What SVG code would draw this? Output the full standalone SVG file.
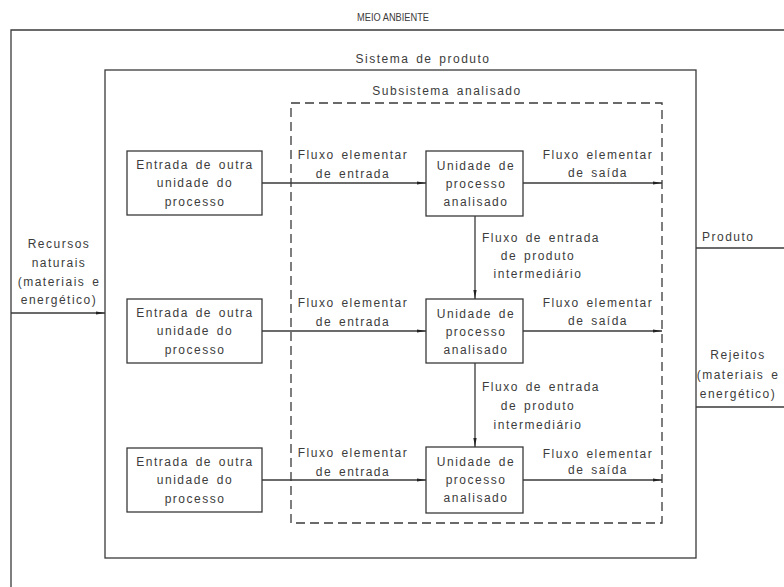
<svg xmlns="http://www.w3.org/2000/svg" width="784" height="587" viewBox="0 0 784 587">
  <style>
    .frame { fill: none; stroke: #3a3a3a; stroke-width: 1.3; }
    .dash { fill: none; stroke: #3a3a3a; stroke-width: 1.3; stroke-dasharray: 9 5; }
    .box { fill: #ffffff; stroke: #3a3a3a; stroke-width: 1.3; }
    .flow { fill: none; stroke: #3a3a3a; stroke-width: 1.3; }
    text { font-family: "Liberation Sans", Arial, sans-serif; font-size: 12px; fill: #3c3c3c; letter-spacing: 1.5px; word-spacing: 2px; }
    .c { text-anchor: middle; }
    .caps { font-size: 11.5px; letter-spacing: 0px; word-spacing: 0px; }
  </style>
  <defs>
    <marker id="arrow" viewBox="0 0 9 4" refX="9" refY="2" markerWidth="9" markerHeight="4" markerUnits="userSpaceOnUse" orient="auto">
      <path d="M0,0.4 L9,2 L0,3.6 Z" fill="#222222"/>
    </marker>
  </defs>

  <!-- environment boundary -->
  <g id="meio-ambiente">
    <path class="frame" d="M11,587 V30 H784"/>
    <text class="caps" x="357" y="21" textLength="72" lengthAdjust="spacingAndGlyphs">MEIO ANBIENTE</text>
  </g>

  <!-- product system -->
  <g id="sistema-produto">
    <rect class="frame" x="105" y="70" width="591" height="488"/>
    <text class="c" x="423" y="63">Sistema de produto</text>
  </g>

  <!-- analysed subsystem -->
  <g id="subsistema">
    <rect class="dash" x="291" y="103" width="371" height="420"/>
    <text class="c" x="447" y="95">Subsistema analisado</text>
  </g>

  <!-- inputs from other process units -->
  <g id="entrada-1">
    <rect class="box" x="127" y="151" width="135" height="64"/>
    <text class="c" x="195" y="169">Entrada de outra</text>
    <text class="c" x="195" y="187">unidade do</text>
    <text class="c" x="195" y="206">processo</text>
  </g>
  <g id="entrada-2">
    <rect class="box" x="127" y="299" width="135" height="64"/>
    <text class="c" x="195" y="317">Entrada de outra</text>
    <text class="c" x="195" y="335">unidade do</text>
    <text class="c" x="195" y="354">processo</text>
  </g>
  <g id="entrada-3">
    <rect class="box" x="127" y="448" width="135" height="64"/>
    <text class="c" x="195" y="466">Entrada de outra</text>
    <text class="c" x="195" y="484">unidade do</text>
    <text class="c" x="195" y="503">processo</text>
  </g>

  <!-- analysed process units -->
  <g id="unidade-1">
    <rect class="box" x="426" y="151" width="97" height="65"/>
    <text class="c" x="476" y="170">Unidade de</text>
    <text class="c" x="476" y="188">processo</text>
    <text class="c" x="476" y="206">analisado</text>
  </g>
  <g id="unidade-2">
    <rect class="box" x="426" y="299" width="97" height="64"/>
    <text class="c" x="476" y="318">Unidade de</text>
    <text class="c" x="476" y="336">processo</text>
    <text class="c" x="476" y="354">analisado</text>
  </g>
  <g id="unidade-3">
    <rect class="box" x="426" y="447" width="97" height="66"/>
    <text class="c" x="476" y="466">Unidade de</text>
    <text class="c" x="476" y="484">processo</text>
    <text class="c" x="476" y="502">analisado</text>
  </g>

  <!-- flows -->
  <g id="connectors">
    <line class="flow" x1="11" y1="313" x2="105" y2="313" marker-end="url(#arrow)"/>
    <line class="flow" x1="262" y1="183" x2="426" y2="183" marker-end="url(#arrow)"/>
    <line class="flow" x1="262" y1="331" x2="426" y2="331" marker-end="url(#arrow)"/>
    <line class="flow" x1="262" y1="480" x2="426" y2="480" marker-end="url(#arrow)"/>
    <line class="flow" x1="523" y1="183" x2="662" y2="183" marker-end="url(#arrow)"/>
    <line class="flow" x1="523" y1="331" x2="662" y2="331" marker-end="url(#arrow)"/>
    <line class="flow" x1="523" y1="480" x2="662" y2="480" marker-end="url(#arrow)"/>
    <line class="flow" x1="475" y1="216" x2="475" y2="299" marker-end="url(#arrow)"/>
    <line class="flow" x1="475" y1="363" x2="475" y2="447" marker-end="url(#arrow)"/>
    <line class="flow" x1="696" y1="248" x2="784" y2="248"/>
    <line class="flow" x1="696" y1="407" x2="784" y2="407"/>
  </g>

  <!-- flow labels -->
  <g id="rotulos">
    <text class="c" x="59" y="248">Recursos</text>
    <text class="c" x="59" y="267">naturais</text>
    <text class="c" x="59" y="286">(materiais e</text>
    <text class="c" x="59" y="304">energético)</text>

    <text class="c" x="353" y="159">Fluxo elementar</text>
    <text class="c" x="353" y="178">de entrada</text>
    <text class="c" x="353" y="307">Fluxo elementar</text>
    <text class="c" x="353" y="326">de entrada</text>
    <text class="c" x="353" y="457">Fluxo elementar</text>
    <text class="c" x="353" y="476">de entrada</text>

    <text class="c" x="598" y="159">Fluxo elementar</text>
    <text class="c" x="598" y="177">de saída</text>
    <text class="c" x="598" y="307">Fluxo elementar</text>
    <text class="c" x="598" y="325">de saída</text>
    <text class="c" x="598" y="458">Fluxo elementar</text>
    <text class="c" x="598" y="474">de saída</text>

    <text class="c" x="541" y="242">Fluxo de entrada</text>
    <text class="c" x="538" y="260">de produto</text>
    <text class="c" x="538" y="278">intermediário</text>
    <text class="c" x="541" y="391">Fluxo de entrada</text>
    <text class="c" x="538" y="410">de produto</text>
    <text class="c" x="538" y="429">intermediário</text>

    <text x="702" y="241">Produto</text>

    <text class="c" x="738" y="359">Rejeitos</text>
    <text class="c" x="738" y="379">(materiais e</text>
    <text class="c" x="738" y="398">energético)</text>
  </g>
</svg>
